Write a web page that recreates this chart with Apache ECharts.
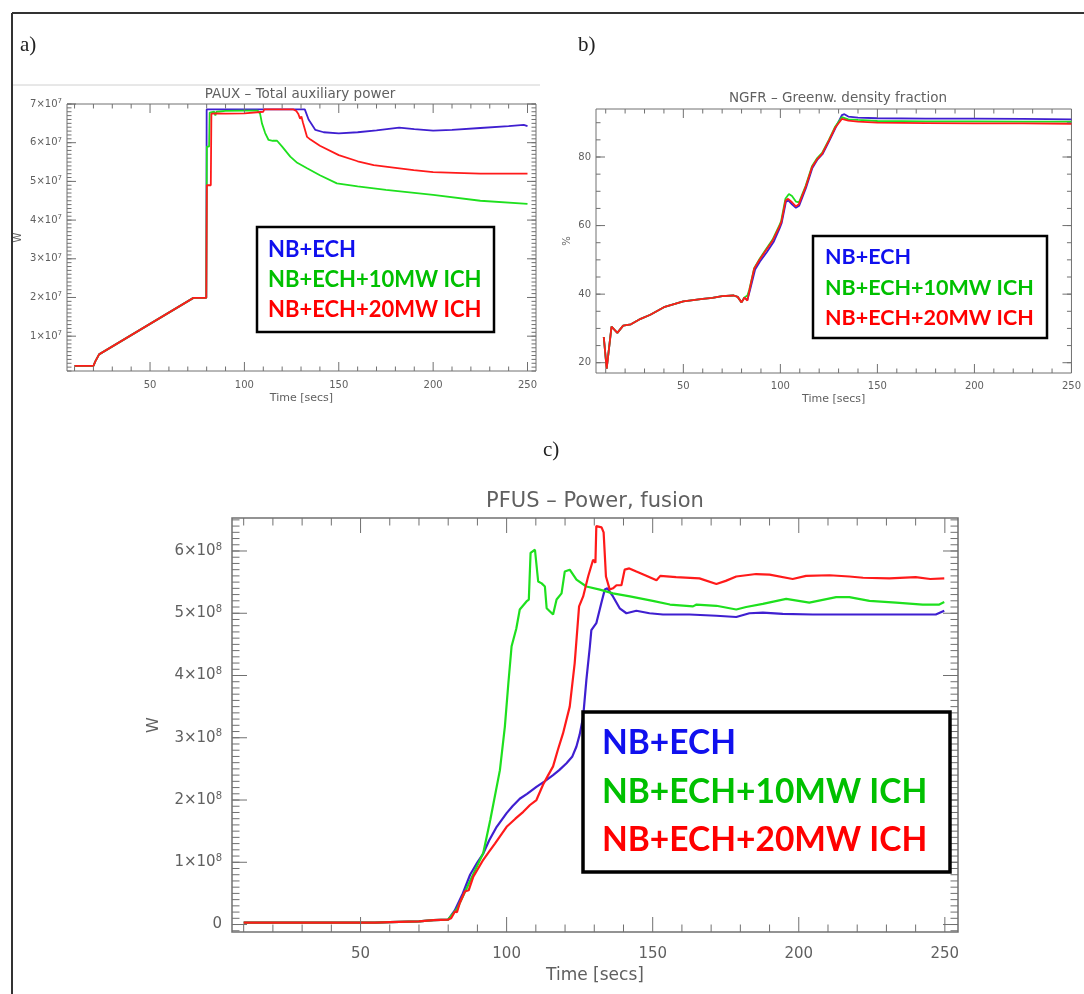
<!DOCTYPE html>
<html>
<head>
<meta charset="utf-8">
<script src="https://cdn.jsdelivr.net/npm/echarts@6/dist/echarts.min.js"></script>
<style>
html,body{margin:0;padding:0;background:#fff;}
#chart{width:1084px;height:994px;}
</style>
</head>
<body>
<div id="chart"></div>
<script>
// ---------- DATA ----------
const seriesNames = ['NB+ECH', 'NB+ECH+10MW ICH', 'NB+ECH+20MW ICH'];
const panelTitles = ['PAUX \u2013 Total auxiliary power', 'NGFR \u2013 Greenw. density fraction', 'PFUS \u2013 Power, fusion'];
const panelLetters = ['a)', 'b)', 'c)'];
const xAxisName = 'Time [secs]';
const yAxisNames = ['W', '%', 'W'];

// tick values
const timeMajors = [50, 100, 150, 200, 250];
const timeMinors = [10,20,30,40,60,70,80,90,110,120,130,140,160,170,180,190,210,220,230,240];
const pauxMajors = [1e7, 2e7, 3e7, 4e7, 5e7, 6e7, 7e7];
const ngfrMajors = [20, 40, 60, 80];
const pfusMajors = [0, 1e8, 2e8, 3e8, 4e8, 5e8, 6e8];

// PAUX – Total auxiliary power [W]
const pauxNB = [[10,2.3e6],[20,2.3e6],[21,3.5e6],[23,5.3e6],[73,1.99e7],[79.8,1.99e7],[80,6.86e7],[132,6.86e7],[134,6.6e7],[137.6,6.33e7],[142,6.27e7],[150,6.24e7],[160,6.27e7],[170,6.32e7],[182,6.39e7],[190,6.35e7],[200,6.31e7],[210,6.33e7],[225,6.38e7],[240,6.43e7],[248,6.46e7],[250,6.43e7]];
const pauxIC10 = [[10,2.3e6],[20,2.3e6],[21,3.5e6],[23,5.3e6],[73,1.99e7],[79.8,1.99e7],[80.1,5.9e7],[81.3,5.9e7],[81.6,6.78e7],[84,6.8e7],[84.6,6.7e7],[85.2,6.8e7],[90,6.82e7],[100,6.83e7],[107,6.83e7],[108.3,6.75e7],[109.3,6.5e7],[111,6.25e7],[112.8,6.07e7],[115,6.05e7],[117.3,6.05e7],[120,5.9e7],[124.3,5.64e7],[128,5.48e7],[133.2,5.34e7],[140,5.16e7],[149,4.95e7],[160,4.87e7],[175,4.78e7],[200,4.65e7],[225,4.5e7],[250,4.42e7]];
const pauxIC20 = [[10,2.3e6],[20,2.3e6],[21,3.5e6],[23,5.3e6],[73,1.99e7],[79.8,1.99e7],[80.1,4.9e7],[82.2,4.9e7],[82.5,6.75e7],[85,6.76e7],[86,6.72e7],[90,6.75e7],[100,6.76e7],[100.5,6.8e7],[110,6.8e7],[110.5,6.86e7],[126,6.86e7],[127.5,6.82e7],[128.5,6.75e7],[129.5,6.62e7],[130.2,6.68e7],[131,6.52e7],[132,6.48e7],[133.2,6.15e7],[135,6.08e7],[140,5.92e7],[150,5.68e7],[160,5.52e7],[168.5,5.42e7],[180,5.35e7],[189.7,5.29e7],[200,5.24e7],[212,5.22e7],[225,5.2e7],[250,5.2e7]];

// NGFR – Greenwald density fraction [%]
const ngfrNB = [[9,27.5],[10.5,18.3],[13,30.5],[16,28.7],[19,30.8],[23,31.2],[28,32.8],[33,34],[40,36.2],[50,37.9],[60,38.6],[65,38.9],[70,39.4],[76,39.6],[78,39.2],[80,37.6],[81.5,39],[83,38.3],[84.5,41.5],[87,47.2],[89.5,49.5],[93,52.2],[96.5,55.2],[99.5,59],[100.7,60.8],[102.9,67],[104.2,67.3],[106,66.2],[108,65.2],[109.7,65.8],[113.2,71],[116.5,76.8],[119.2,79.3],[121.7,80.8],[125.2,84.7],[128.5,88.6],[131.7,92.2],[133,92.5],[135,91.8],[140,91.5],[150,91.3],[175,91.2],[200,91.2],[225,91.1],[250,91]];
const ngfrIC10 = [[9,27.5],[10.5,18.3],[13,30.5],[16,28.7],[19,30.8],[23,31.2],[28,32.8],[33,34],[40,36.2],[50,37.9],[60,38.6],[65,38.9],[70,39.4],[76,39.6],[78,39.2],[80,37.6],[81.5,39],[83,39.6],[84,41.3],[86.5,47.6],[89,50],[92.5,53],[96,55.9],[99.3,59.8],[100.4,61.3],[102.6,67.8],[104.4,69.2],[106,68.6],[108,67],[109.6,66.8],[113,71.5],[116.3,77.3],[119,79.7],[121.5,81.2],[125,85],[128.3,88.9],[131.7,91.6],[135,91],[140,90.8],[150,90.5],[175,90.4],[200,90.4],[225,90.3],[250,90.3]];
const ngfrIC20 = [[9,27.5],[10.5,18.3],[13,30.5],[16,28.7],[19,30.8],[23,31.2],[28,32.8],[33,34],[40,36.2],[50,37.9],[60,38.6],[65,38.9],[70,39.4],[76,39.6],[78,39.2],[80,37.6],[81.5,39],[83,38.1],[84,41],[86.5,47.4],[89,49.8],[92.5,52.7],[96,55.6],[99.3,59.5],[100.5,61],[102.7,67.3],[104,67.8],[106,66.8],[108,65.6],[109.5,66.2],[113,71.2],[116.3,77],[119,79.4],[121.5,80.9],[125,84.8],[128.3,88.6],[131.7,91.1],[135,90.6],[140,90.3],[150,90],[175,89.9],[200,89.8],[225,89.8],[250,89.7]];

// PFUS – Fusion power [W]
const pfusNB = [[10,3e6],[30,3e6],[55,3e6],[60,4e6],[70,5e6],[75,7e6],[80,8e6],[82.3,2.3e7],[85,5e7],[87.5,8e7],[90,1.0e8],[92,1.14e8],[94,1.35e8],[96.6,1.57e8],[100,1.79e8],[102,1.9e8],[104.5,2.02e8],[107,2.1e8],[110.2,2.21e8],[113,2.3e8],[115.9,2.4e8],[118,2.48e8],[120.5,2.59e8],[122.5,2.7e8],[123.9,2.86e8],[125,3.05e8],[126.2,3.34e8],[127.3,3.93e8],[128.5,4.47e8],[129,4.73e8],[130.7,4.84e8],[132.4,5.16e8],[133.6,5.38e8],[134.5,5.4e8],[136.4,5.27e8],[138.7,5.08e8],[141,5.0e8],[144.4,5.04e8],[148.9,5.0e8],[153.5,4.98e8],[162.6,4.98e8],[171.8,4.96e8],[178.6,4.94e8],[183.1,5.0e8],[187.7,5.01e8],[194.5,4.99e8],[204.8,4.98e8],[216.2,4.98e8],[227.6,4.98e8],[238.9,4.98e8],[246.9,4.98e8],[249.8,5.04e8]];
const pfusIC10 = [[10,3e6],[30,3e6],[55,3e6],[60,4e6],[70,5e6],[75,7e6],[80,8e6],[83,2.5e7],[86,5.5e7],[88,7.5e7],[90,9.5e7],[92,1.15e8],[94.4,1.68e8],[97.7,2.48e8],[99.4,3.18e8],[100.6,3.88e8],[101.7,4.47e8],[103.3,4.75e8],[104.5,5.06e8],[106.8,5.19e8],[107.6,5.22e8],[108.2,5.97e8],[109.7,6.02e8],[110.3,5.99e8],[110.8,5.51e8],[112,5.48e8],[113.1,5.43e8],[113.7,5.08e8],[115.9,4.98e8],[117.1,5.22e8],[118.8,5.32e8],[119.9,5.67e8],[121.6,5.7e8],[123.9,5.54e8],[127.3,5.43e8],[131.9,5.38e8],[136.4,5.32e8],[142.2,5.27e8],[150,5.2e8],[155.9,5.14e8],[163.8,5.11e8],[165,5.14e8],[171.8,5.12e8],[178.6,5.06e8],[182,5.1e8],[187.7,5.15e8],[195.7,5.23e8],[203.6,5.17e8],[212.8,5.26e8],[217.3,5.26e8],[224.2,5.2e8],[233.3,5.17e8],[242.4,5.14e8],[248.1,5.14e8],[249.8,5.18e8]];
const pfusIC20 = [[10,3e6],[30,3e6],[55,3e6],[60,4e6],[70,5e6],[75,7e6],[80,8e6],[81,1.0e7],[82.3,2.1e7],[83,2.0e7],[84,3.5e7],[85.7,5.3e7],[87,5.5e7],[88.6,7.7e7],[90,8.8e7],[92,1.04e8],[94,1.17e8],[96,1.3e8],[100,1.57e8],[103,1.7e8],[105.7,1.81e8],[108,1.92e8],[110.2,2.0e8],[112.5,2.25e8],[114,2.38e8],[115.9,2.54e8],[117.5,2.8e8],[119.3,3.07e8],[121.6,3.5e8],[123.3,4.2e8],[124.8,5.11e8],[126.2,5.27e8],[127.9,5.59e8],[129.6,5.86e8],[130.4,5.81e8],[130.7,6.4e8],[132.5,6.38e8],[133.2,6.3e8],[134,5.59e8],[135.3,5.38e8],[136.4,5.4e8],[137.6,5.45e8],[139.3,5.45e8],[140.4,5.7e8],[142,5.72e8],[144.4,5.67e8],[148,5.6e8],[151.3,5.53e8],[152.6,5.6e8],[158,5.58e8],[166,5.56e8],[171.8,5.47e8],[175,5.52e8],[178.6,5.59e8],[185.4,5.63e8],[190,5.62e8],[197.9,5.55e8],[202.5,5.6e8],[210.5,5.61e8],[217.3,5.59e8],[222,5.57e8],[231,5.56e8],[240,5.58e8],[245,5.55e8],[249.8,5.56e8]];

// ---------- STYLE / LAYOUT ----------
const lineColors = ['#3f1fd0', '#1ee01e', '#ff1a1a'];
const legendColors = ['#1010ee', '#00c000', '#ff0000'];
const axisColor = '#707070';
const textColor = '#606060';
const axisFont = 'DejaVu Sans';

function range(a, b, step) { const r = []; const n = Math.round((b - a) / step); for (let i = 0; i <= n; i++) r.push(a + i * step); return r; }

const panels = [
  { grid: {left: 67, top: 104, width: 469, height: 267}, xmin: 6, xmax: 254.5, ymin: 1e6, ymax: 7e7,
    yMajors: pauxMajors, yMinors: range(1e6, 7e7, 1e6), fs: 10, exp: 7,
    majLen: 9, minLen: 4.5, xMargin: 9, yMargin: 5, nameFs: 11, xNameGap: 22, yNameGap: 44, data: [pauxNB, pauxIC10, pauxIC20] },
  { grid: {left: 596, top: 109, width: 479, height: 264}, xmin: 5, xmax: 250, ymin: 17, ymax: 94,
    yMajors: ngfrMajors, yMinors: range(20, 90, 5), fs: 10, exp: null,
    majLen: 9, minLen: 4.5, xMargin: 8, yMargin: 5, nameFs: 11, xNameGap: 21, yNameGap: 24, data: [ngfrNB, ngfrIC10, ngfrIC20] },
  { grid: {left: 232, top: 518, width: 726, height: 414}, xmin: 6, xmax: 254.5, ymin: -1.2e7, ymax: 6.53e8,
    yMajors: pfusMajors, yMinors: range(-1e7, 6.5e8, 1e7), fs: 15, exp: 8,
    majLen: 15, minLen: 7.5, xMargin: 15, yMargin: 10, nameFs: 17, xNameGap: 35, yNameGap: 70, data: [pfusNB, pfusIC10, pfusIC20] }
];

const grids = [], xAxes = [], yAxes = [], series = [], axisRefs = [];

panels.forEach((p, gi) => {
  grids.push(Object.assign({show: true, borderColor: axisColor, borderWidth: gi === 2 ? 1.5 : 1, backgroundColor: 'transparent', containLabel: false}, p.grid));
  const supFs = Math.round(p.fs * 0.68);
  const yFmt = p.exp === null ? (v => String(v)) :
    (v => v === 0 ? '{m|0}' : '{m|' + Math.round(v / Math.pow(10, p.exp)) + '\u00d710}{e|' + p.exp + '}');
  const rich = { m: {fontSize: p.fs, color: textColor, fontFamily: axisFont}, e: {fontSize: supFs, color: textColor, fontFamily: axisFont, verticalAlign: 'top', padding: [0, 0, Math.round(p.fs * 0.55), 0]} };
  const common = (min, max) => ({gridIndex: gi, type: 'value', min: min, max: max, splitLine: {show: false}, axisLine: {show: false, onZero: false}, axisTick: {show: false}, animation: false});
  const xi = xAxes.length;
  xAxes.push(Object.assign(common(p.xmin, p.xmax), {position: 'bottom',
    axisLabel: {show: true, customValues: timeMajors, margin: p.xMargin, color: textColor, fontSize: p.fs, fontFamily: axisFont},
    name: xAxisName, nameLocation: 'middle', nameGap: p.xNameGap, nameTextStyle: {color: textColor, fontSize: p.nameFs, fontFamily: axisFont}}));
  const yi = yAxes.length;
  yAxes.push(Object.assign(common(p.ymin, p.ymax), {position: 'left',
    axisLabel: {show: true, customValues: p.yMajors, margin: p.yMargin, color: textColor, fontSize: p.fs, fontFamily: axisFont, formatter: yFmt, rich: rich},
    name: yAxisNames[gi], nameLocation: 'middle', nameGap: p.yNameGap, nameTextStyle: {color: textColor, fontSize: p.nameFs - 1, fontFamily: axisFont}}));
  axisRefs.push({xAxisIndex: xi, yAxisIndex: yi});
  p.data.forEach((d, si) => {
    series.push({type: 'line', name: seriesNames[si] + ' (' + panelTitles[gi] + ')', xAxisIndex: xi, yAxisIndex: yi, data: d,
      showSymbol: false, symbol: 'none', smooth: false, silent: true, z: 2 + si,
      lineStyle: {color: lineColors[si], width: gi === 2 ? 2.2 : 1.8}});
  });
});

// ---------- GRAPHICS (frame, labels, titles, legends) ----------
const graphics = [];
graphics.push({type: 'line', shape: {x1: 12, y1: 13, x2: 1084, y2: 13}, style: {stroke: '#333', lineWidth: 2}});
graphics.push({type: 'line', shape: {x1: 12, y1: 13, x2: 12, y2: 994}, style: {stroke: '#333', lineWidth: 2}});
graphics.push({type: 'line', shape: {x1: 13, y1: 85, x2: 540, y2: 85}, style: {stroke: '#d0d0d0', lineWidth: 1}});

const letterPos = [[20, 45], [578, 45], [543, 450]];
panelLetters.forEach((t, i) => graphics.push({type: 'text', x: letterPos[i][0], y: letterPos[i][1],
  style: {text: t, fill: '#222', font: '21px "Liberation Serif"', textVerticalAlign: 'middle'}}));

const titlePos = [[300, 94, 13.5], [838, 98, 13.5], [595, 502, 21]];
panelTitles.forEach((t, i) => graphics.push({type: 'text', x: titlePos[i][0], y: titlePos[i][1],
  style: {text: t, fill: textColor, font: titlePos[i][2] + 'px "DejaVu Sans"', textAlign: 'center', textVerticalAlign: 'middle'}}));

const legendBoxes = [
  {x: 257, y: 227, w: 237, h: 105, tx: 268, ty: [250, 280, 310], fs: 22, lw: 2.5},
  {x: 813, y: 236, w: 234, h: 102, tx: 825, ty: [257, 288, 318], fs: 21.5, lw: 2.5},
  {x: 583, y: 712, w: 367, h: 160, tx: 602, ty: [743, 792, 840], fs: 33.5, lw: 3.5}
];
legendBoxes.forEach(b => {
  graphics.push({type: 'rect', shape: {x: b.x, y: b.y, width: b.w, height: b.h}, style: {fill: '#fff', stroke: '#000', lineWidth: b.lw}, z: 100});
  seriesNames.forEach((n, i) => graphics.push({type: 'text', x: b.tx, y: b.ty[i], z: 101,
    style: {text: n, fill: legendColors[i], font: 'bold ' + b.fs + 'px Lato', textVerticalAlign: 'middle'}}));
});

const chart = echarts.init(document.getElementById('chart'), null, {renderer: 'canvas'});
chart.setOption({
  animation: false,
  backgroundColor: '#ffffff',
  grid: grids,
  xAxis: xAxes,
  yAxis: yAxes,
  series: series,
  graphic: graphics
});

// inward ticks on all four sides, placed through each panel's axis scales
panels.forEach((p, gi) => {
  const ref = axisRefs[gi];
  const seg = (x1, y1, x2, y2) => graphics.push({type: 'line', silent: true, z: 5,
    shape: {x1: x1, y1: y1, x2: x2, y2: y2}, style: {stroke: axisColor, lineWidth: 1}});
  const yTicks = (vals, len) => vals.forEach(v => {
    const a = chart.convertToPixel(ref, [p.xmin, v]);
    const b = chart.convertToPixel(ref, [p.xmax, v]);
    seg(a[0], a[1], a[0] + len, a[1]);
    seg(b[0] - len, b[1], b[0], b[1]);
  });
  const xTicks = (vals, len) => vals.forEach(v => {
    const a = chart.convertToPixel(ref, [v, p.ymin]);
    const b = chart.convertToPixel(ref, [v, p.ymax]);
    seg(a[0], a[1], a[0], a[1] - len);
    seg(b[0], b[1], b[0], b[1] + len);
  });
  yTicks(p.yMinors, p.minLen);
  yTicks(p.yMajors, p.majLen);
  xTicks(timeMinors, p.minLen);
  xTicks(timeMajors, p.majLen);
});
chart.setOption({graphic: graphics});
</script>
</body>
</html>
